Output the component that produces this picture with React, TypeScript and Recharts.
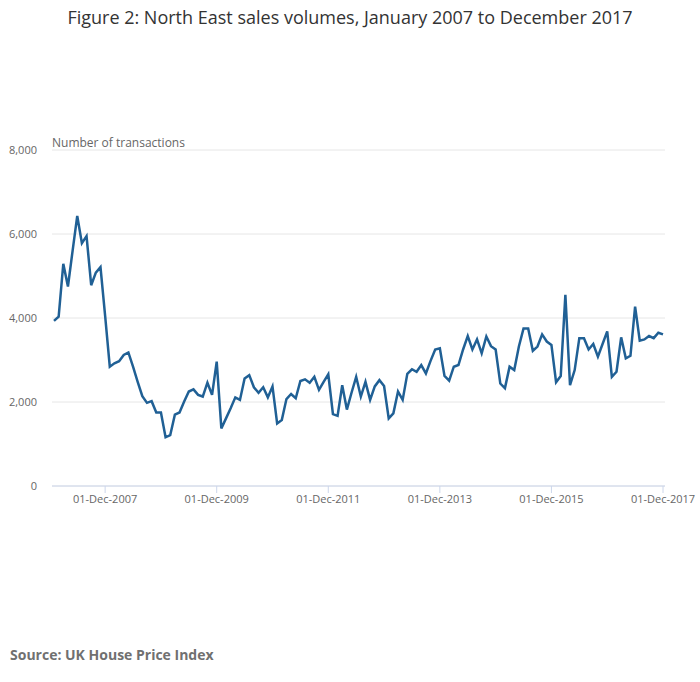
import { LineChart, Line, XAxis, YAxis, CartesianGrid } from "recharts"

// Monthly sales volumes, North East, Jan 2007 - Dec 2017
const salesVolumes = [
  3930, 4030, 5290, 4750, 5600, 6430, 5780, 5950, 4780, 5080, 5210, 4050,
  2840, 2920, 2970, 3120, 3180, 2840, 2480, 2140, 1980, 2020, 1750, 1750,
  1160, 1210, 1700, 1750, 2010, 2250, 2300, 2170, 2130, 2460, 2170, 2960,
  1370, 1610, 1850, 2110, 2050, 2560, 2640, 2350, 2220, 2350, 2110, 2370,
  1490, 1570, 2070, 2190, 2090, 2500, 2540, 2460, 2600, 2290, 2480, 2660,
  1710, 1670, 2400, 1820, 2220, 2600, 2130, 2480, 2050, 2370, 2520, 2380,
  1610, 1730, 2250, 2050, 2670, 2780, 2720, 2880, 2680, 2980, 3250, 3280,
  2620, 2510, 2840, 2880, 3250, 3570, 3250, 3490, 3160, 3560, 3330, 3250,
  2440, 2330, 2840, 2760, 3320, 3750, 3750, 3220, 3320, 3610, 3440, 3360,
  2470, 2620, 4550, 2400, 2760, 3520, 3520, 3250, 3380, 3080, 3380, 3680,
  2600, 2720, 3540, 3040, 3100, 4270, 3460, 3490, 3570, 3520, 3650, 3610,
]

const xTickIndexes = [11, 35, 59, 83, 107, 131]
const xTickLabels = ["01-Dec-2007", "01-Dec-2009", "01-Dec-2011", "01-Dec-2013", "01-Dec-2015", "01-Dec-2017"]
const yTicks = [0, 2000, 4000, 6000, 8000]

const chartData = salesVolumes.map((value, index) => ({ index, value }))

const AXIS_COLOR = "#ccd6eb"
const LABEL_COLOR = "#666666"

export default function App() {
  return (
    <div
      style={{
        position: "absolute",
        left: 0,
        top: 0,
        width: 700,
        height: 682,
        background: "#fff",
        fontFamily: "'Open Sans', sans-serif",
      }}
    >
      <div
        style={{
          position: "absolute",
          top: 5,
          width: 700,
          textAlign: "center",
          fontSize: 18,
          color: "#333333",
        }}
      >
        Figure 2: North East sales volumes, January 2007 to December 2017
      </div>
      <div style={{ position: "absolute", left: 52, top: 134, fontSize: 12, color: LABEL_COLOR }}>
        Number of transactions
      </div>
      <LineChart
        width={700}
        height={682}
        data={chartData}
        margin={{ top: 150, right: 35, bottom: 166, left: 0 }}
        style={{ position: "absolute", left: 0, top: 0 }}
      >
        <CartesianGrid vertical={false} stroke="#e6e6e6" />
        <XAxis
          dataKey="index"
          type="number"
          domain={[0, 131]}
          ticks={xTickIndexes}
          tickFormatter={(v: number) => xTickLabels[xTickIndexes.indexOf(v)] ?? ""}
          padding={{ left: 2, right: 2 }}
          stroke={AXIS_COLOR}
          tickSize={7}
          tickMargin={2}
          tick={{ fill: LABEL_COLOR, fontSize: 11 }}
          interval={0}
        />
        <YAxis
          width={52}
          domain={[0, 8000]}
          ticks={yTicks}
          axisLine={false}
          tickLine={false}
          tickSize={0}
          tickMargin={15}
          tick={{ fill: LABEL_COLOR, fontSize: 11 }}
          tickFormatter={(v: number) => v.toLocaleString("en-GB")}
        />
        <Line
          dataKey="value"
          stroke="#206095"
          strokeWidth={2.5}
          dot={false}
          isAnimationActive={false}
        />
      </LineChart>
      <div
        style={{
          position: "absolute",
          left: 10,
          top: 645,
          fontSize: 14,
          fontWeight: 700,
          color: "#707070",
        }}
      >
        Source: UK House Price Index
      </div>
    </div>
  )
}
